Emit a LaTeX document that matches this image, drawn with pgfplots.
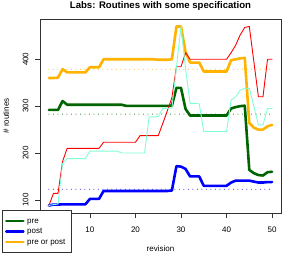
\documentclass[border=0pt]{standalone}
\usepackage{pgfplots}
\pgfplotsset{compat=1.18}
\usepackage{fontspec}
\setmainfont{Liberation Sans}
\definecolor{cpre}{HTML}{006400}
\definecolor{cpost}{HTML}{0000FF}
\definecolor{cprepost}{HTML}{FFB300}
\definecolor{cred}{HTML}{FF0000}
\definecolor{caqua}{HTML}{7FFFD4}
\begin{document}
\begin{tikzpicture}
\useasboundingbox (-40pt,-41pt) rectangle (254pt,213pt);
\begin{axis}[
  scale only axis, width=241pt, height=194pt,
  at={(0,0)}, anchor=south west,
  xmin=-0.96, xmax=51.96, ymin=72, ymax=486,
  xtick={10,20,30,40,50}, ytick={100,200,300,400},
  tick align=outside, xtick pos=bottom, ytick pos=left,
  major tick length=4.8pt,
  axis line style={black!80, line width=0.6pt},
  tick style={black!80, line width=0.6pt},
  /pgf/number format/assume math mode=true,
  ticklabel style={font=\fontsize{8}{9.6}\selectfont},
  xticklabel style={anchor=base, yshift=-14.5pt},
  yticklabel style={xshift=-6.9pt, rotate=90, anchor=base},
  title={Labs: Routines with some specification},
  title style={at={(axis description cs:0.5,1)}, anchor=base, yshift=4pt, font=\bfseries\fontsize{9.6}{11}\selectfont},
  xlabel={revision},
  xlabel style={at={(axis description cs:0.5,0)}, anchor=base, yshift=-38.5pt, font=\fontsize{8}{9.6}\selectfont},
  ylabel={\# routines},
  ylabel style={at={(axis description cs:-0.12863,0.5)}, anchor=base, font=\fontsize{8}{9.6}\selectfont},
  legend cell align=left,
  legend style={at={(axis description cs:-0.1589,0.0155)}, anchor=north west,
    draw=black!80, fill=white, line width=0.6pt, inner xsep=3pt, inner ysep=5.5pt, row sep=0pt,
    nodes={inner xsep=2.5pt, inner ysep=1pt, text height=6.3pt, text depth=2.2pt},
    font=\fontsize{8}{9.6}\selectfont},
  every axis plot/.append style={line join=round, line cap=round},
]
\addplot[color=cprepost, line width=1pt, line cap=round, dash pattern=on 0pt off 4.5pt, forget plot] coordinates {(1,378.7)(50,378.7)};
\addplot[color=cpre, line width=1pt, line cap=round, dash pattern=on 0pt off 4.5pt, forget plot] coordinates {(1,283)(50,283)};
\addplot[color=cpost, line width=1pt, line cap=round, dash pattern=on 0pt off 4.5pt, forget plot] coordinates {(1,122.8)(50,122.8)};
\addplot[cpre, line width=2.6pt] coordinates {
(1,292)(2,292)(3,292)(4,311)(5,303)(6,303)(7,303)(8,303)(9,303)(10,303)
(11,303)(12,303)(13,303)(14,303)(15,303)(16,303)(17,303)(18,300.5)(19,300.5)(20,300.5)
(21,300.5)(22,300.5)(23,300.5)(24,300.5)(25,300.5)(26,300.5)(27,300.5)(28,301)(29,339)(30,339)
(31,294)(32,280)(33,280)(34,280)(35,280)(36,280)(37,280)(38,280)(39,280)(40,280)
(41,295)(42,298)(43,300)(44,301)(45,164)(46,157)(47,153)(48,152)(49,159)(50,160)};
\addlegendentry{pre}
\addplot[cpost, line width=2.6pt] coordinates {
(1,88)(2,90)(3,90)(4,90.5)(5,90.5)(6,90.5)(7,90.5)(8,90.5)(9,90.5)(10,102)
(11,102)(12,102)(13,119)(14,119)(15,119)(16,119)(17,119)(18,119)(19,119)(20,119)
(21,119)(22,119)(23,119)(24,119)(25,119)(26,119)(27,119)(28,120)(29,172)(30,171)
(31,166)(32,150)(33,150)(34,150)(35,130)(36,130)(37,130)(38,130)(39,130)(40,130)
(41,137)(42,141)(43,141)(44,141)(45,141)(46,139)(47,137)(48,137)(49,138)(50,138)};
\addlegendentry{post}
\addplot[cprepost, line width=2.6pt] coordinates {
(1,360)(2,360)(3,361)(4,379)(5,372)(6,372)(7,372)(8,372)(9,372)(10,383)
(11,383)(12,383)(13,400)(14,400)(15,400)(16,400)(17,400)(18,400)(19,400)(20,400)
(21,400)(22,400)(23,400)(24,400)(25,399)(26,399)(27,399)(28,400)(29,470)(30,470)
(31,416)(32,393)(33,393)(34,393)(35,374)(36,374)(37,374)(38,374)(39,374)(40,374)
(41,398)(42,400)(43,402)(44,403)(45,264)(46,254)(47,250)(48,250)(49,257)(50,260)};
\addlegendentry{pre or post}
\addplot[cred, line width=0.9pt, forget plot] coordinates {
(1,88)(2,114)(3,114)(4,182)(5,210)(6,210)(7,210)(8,210)(9,210)(10,210)
(11,210)(12,210)(13,223)(14,223)(15,223)(16,223)(17,223)(18,223)(19,223)(20,223)
(21,237)(22,237)(23,237)(24,237)(25,237)(26,263)(27,290)(28,318)(29,384)(30,384)
(31,414)(32,400)(33,400)(34,400)(35,400)(36,400)(37,400)(38,400)(39,400)(40,400)
(41,414)(42,430)(43,452)(44,468)(45,470)(46,395)(47,320)(48,320)(49,400)(50,400)};
\addplot[caqua, line width=0.9pt, forget plot] coordinates {
(1,88)(2,90)(3,91)(4,178)(5,188)(6,188)(7,188)(8,188)(9,188)(10,204)
(11,204)(12,204)(13,204)(14,204)(15,204)(16,204)(17,200)(18,200)(19,200)(20,200)
(21,200)(22,200)(23,277)(24,277)(25,278)(26,295)(27,295)(28,296)(29,383)(30,470)
(31,380)(32,306)(33,306)(34,305)(35,246)(36,246)(37,246)(38,246)(39,246)(40,246)
(41,313)(42,320)(43,334)(44,338)(45,338)(46,300)(47,260)(48,260)(49,295)(50,295)};
\end{axis}
\end{tikzpicture}
\end{document}
